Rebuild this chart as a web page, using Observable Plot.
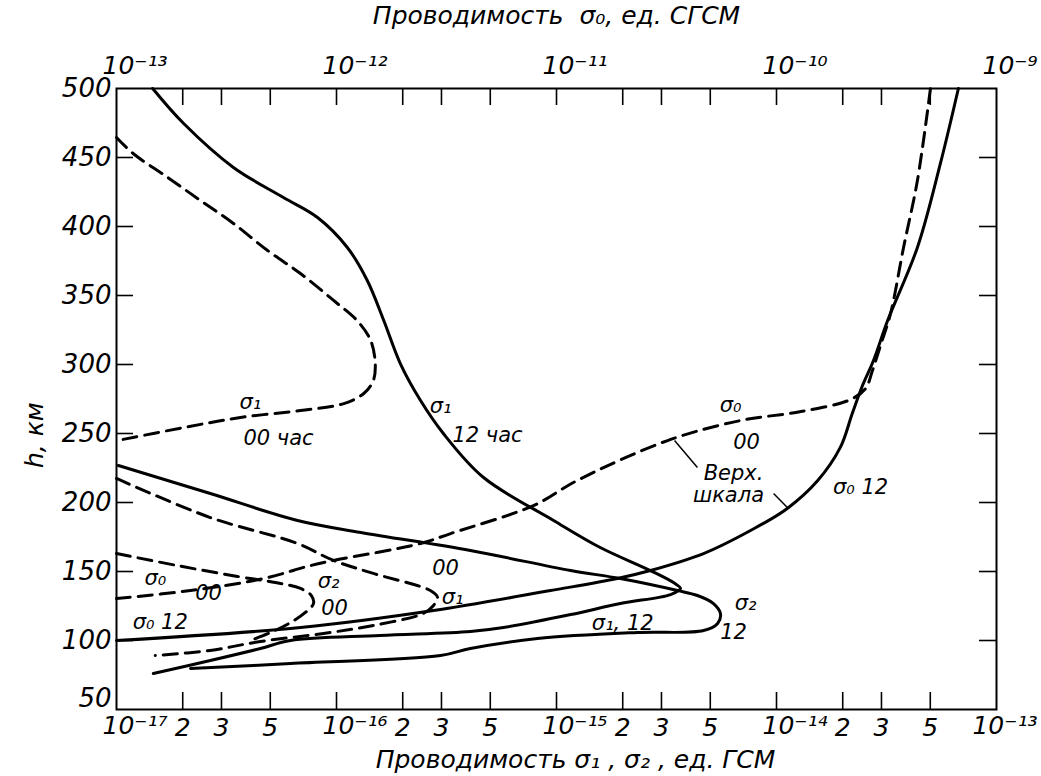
<!DOCTYPE html>
<html><head><meta charset="utf-8">
<script src="https://cdn.jsdelivr.net/npm/d3@7"></script>
<script src="https://cdn.jsdelivr.net/npm/@observablehq/plot@0.6"></script>
<style>body{margin:0;background:#fff}svg{display:block}</style>
</head><body><div id="chart"></div>
<script>
// Bottom scale: σ1, σ2 (ед. ГСМ). Top scale: σ0 (ед. СГСМ), 4 decades higher.
// Each point: [conductivity, height km]
const sigma1Day = [[1.46e-17,500],[2.02e-17,474.6],[3.40e-17,442.8],[5.74e-17,421],[8.20e-17,406.5],[1.12e-16,384.8],[1.38e-16,360.9],[1.64e-16,331.9],[1.95e-16,300.7],[2.41e-16,273.9],[3.06e-16,250],[4.66e-16,218.1],[9.7e-16,187],[1.58e-15,167.4],[2.67e-15,150.7],[3.40e-15,142],[3.66e-15,137.7],[3.30e-15,133.3],[1.95e-15,126.8],[1.16e-15,118.8],[5.74e-16,109.4],[4.06e-16,106.5],[1.58e-16,103.6],[6.18e-17,100],[4.51e-17,94.2],[2.67e-17,85.5],[1.47e-17,76.1]];
const sigma2Day = [[1.02e-17,226.8],[2.67e-17,206.5],[6.65e-17,187],[1.29e-16,178.3],[4.06e-16,165.2],[1.16e-15,150.7],[1.95e-15,144.9],[3.55e-15,136.2],[4.37e-15,132.6],[5.17e-15,126.8],[5.56e-15,119.6],[5.40e-15,112.3],[4.66e-15,107.2],[2.33e-15,105.8],[8.2e-16,101.4],[4.06e-16,94.2],[2.97e-16,89.1],[6.18e-17,83.3],[2.17e-17,79.7]];
const sigma1NightUpper = [[1.0e-17,464.5],[1.19e-17,452.9],[1.71e-17,435.5],[2.41e-17,418.8],[3.40e-17,402.2],[4.86e-17,382.6],[6.86e-17,365.9],[9.7e-17,346.4],[1.24e-16,331.9],[1.43e-16,317.4],[1.50e-16,300.7],[1.47e-16,288.4],[1.33e-16,279],[1.08e-16,271.7],[6.86e-17,266.7],[3.66e-17,261.6],[2.02e-17,254.3],[1.01e-17,244.9]];
const sigma1NightLower = [[1.0e-17,217.4],[2.67e-17,189.1],[6.65e-17,170.3],[9.7e-17,158],[1.47e-16,148.6],[2.67e-16,136.2],[2.88e-16,131.2],[2.76e-16,125.4],[2.48e-16,119.6],[1.47e-16,110.9],[8.73e-17,105.1],[4.51e-17,99.3],[2.67e-17,92.8],[1.50e-17,89.1]];
const sigma2Night = [[1.0e-17,163],[1.89e-17,154.3],[3.55e-17,146.4],[5.28e-17,142],[6.86e-17,137.7],[7.69e-17,132.6],[7.86e-17,126.8],[7.22e-17,120.3],[6.18e-17,113],[5.01e-17,105.8],[4.06e-17,100]];
// σ0 in ед. СГСМ (upper scale)
const sigma0Night = [[1.0e-13,130.4],[2.17e-13,136.2],[4.66e-13,144.9],[7.62e-13,154.3],[9.7e-13,158],[2.41e-12,170.3],[3.30e-12,177.5],[7.86e-12,197.8],[1.24e-11,215.9],[3.20e-11,244.9],[6.86e-11,259.4],[1.29e-10,265.9],[2.17e-10,274.6],[2.54e-10,282.6],[2.73e-10,295.7],[2.97e-10,313.8],[3.30e-10,337],[3.78e-10,384.8],[4.37e-10,433.3],[5.01e-10,500]];
const sigma0Day = [[1.0e-13,100],[6.86e-13,109.4],[2.76e-12,121.7],[9.4e-12,136.2],[1.89e-11,144.9],[2.67e-11,150.7],[4.66e-11,163],[7.62e-11,179.7],[1.12e-10,195.7],[1.54e-10,215.9],[1.95e-10,239.9],[2.21e-10,264.5],[2.46e-10,284.8],[2.76e-10,302.9],[3.20e-10,331.9],[4.37e-10,384.8],[5.56e-10,445.7],[6.71e-10,500]];

const bottomTicks = [1e-17,2e-17,3e-17,5e-17,1e-16,2e-16,3e-16,5e-16,1e-15,2e-15,3e-15,5e-15,1e-14,2e-14,3e-14,5e-14,1e-13];
const bottomTickLabels = ["10⁻¹⁷","2","3","5","10⁻¹⁶","2","3","5","10⁻¹⁵","2","3","5","10⁻¹⁴","2","3","5","10⁻¹³"];
const topTicks = [1e-13,1e-12,1e-11,1e-10,1e-9];
const topTickLabels = ["10⁻¹³","10⁻¹²","10⁻¹¹","10⁻¹⁰","10⁻⁹"];
const topToBottom = 1e-4; // σ0 scale offset (4 decades)
const yTicks = [50,100,150,200,250,300,350,400,450,500];

const labelText = ["σ₁","00 час","σ₁","12 час","σ₀","00","Верх.","шкала","σ₀ 12","σ₂","12","σ₁, 12","00","σ₁","σ₂","00","σ₀","00","σ₀ 12"];
const labelX = [4.06e-17,5.45e-17,2.97e-16,4.86e-16,6.18e-15,7.31e-15,6.38e-15,6.05e-15,2.41e-14,7.23e-15,6.38e-15,2.0e-15,3.13e-16,3.37e-16,9.2e-17,9.8e-17,1.50e-17,2.62e-17,1.58e-17];
const labelH = [272.5,246.4,270,248.6,270.3,243.5,221,205,210.9,126.8,105.8,112.3,152.2,131.2,142.8,123.2,144.9,134.1,113];
const leaders = [[3.44e-15,244.9,4.37e-15,225.4],[9.7e-15,206.5,1.12e-14,196.4]];

const series = [
  {id:"s1d", pts:sigma1Day, dashed:false, k:1},
  {id:"s2d", pts:sigma2Day, dashed:false, k:1},
  {id:"s0d", pts:sigma0Day, dashed:false, k:topToBottom},
  {id:"s1nu", pts:sigma1NightUpper, dashed:true, k:1},
  {id:"s1nl", pts:sigma1NightLower, dashed:true, k:1},
  {id:"s2n", pts:sigma2Night, dashed:true, k:1},
  {id:"s0n", pts:sigma0Night, dashed:true, k:topToBottom}
];
const rows = series.flatMap(s => s.pts.map(([v,h]) => ({id:s.id, x:v*s.k, h, dashed:s.dashed})));
const labels = labelText.map((t,i) => ({t, x:labelX[i], h:labelH[i]}));

const W = 1041, H = 776, mL = 116, mR = 45, mT = 88, mB = 67;
const pw = W - mL - mR, ph = H - mT - mB, TK = 17;
const bottomLbl = bottomTicks.map((v,i) => ({v, t: bottomTickLabels[i], dec: bottomTickLabels[i].startsWith("10")}));
const topLbl = topTicks.map((v,i) => ({v: v*topToBottom, t: topTickLabels[i]}));
const lastDec = bottomLbl.length - 1;
const font = "DejaVu Sans";
const tf = {fontSize: 25, fontStyle: "italic", fill: "#000"};

const chart = Plot.plot({
  width: W, height: H,
  marginLeft: mL, marginRight: mR, marginTop: mT, marginBottom: mB,
  style: {fontFamily: font, fontStyle: "italic", background: "#fff", color: "#000"},
  x: {type: "log", domain: [1e-17, 1e-13], axis: null},
  y: {domain: [50, 500], axis: null},
  marks: [
    Plot.frame({stroke: "#000", strokeWidth: 2}),
    // inward ticks on all four sides
    Plot.tickX(bottomTicks.slice(1,-1), {x: d=>d, insetTop: ph - TK, strokeWidth: 1.6}),
    Plot.tickX(bottomTicks.slice(1,-1), {x: d=>d, insetBottom: ph - TK, strokeWidth: 1.6}),
    Plot.tickY(yTicks.slice(1,-1), {y: d=>d, insetRight: pw - TK, strokeWidth: 1.6}),
    Plot.tickY(yTicks.slice(1,-1), {y: d=>d, insetLeft: pw - TK, strokeWidth: 1.6}),
    // bottom tick labels
    Plot.text(bottomLbl.filter((d,i)=>d.dec && i!==lastDec), {x: "v", text: "t", frameAnchor: "bottom", lineAnchor: "top", dy: 7, dx: -14, textAnchor: "start", ...tf}),
    Plot.text(bottomLbl.filter((d,i)=>i===lastDec), {x: "v", text: "t", frameAnchor: "bottom", lineAnchor: "top", dy: 7, dx: 41, textAnchor: "end", ...tf}),
    Plot.text(bottomLbl.filter(d=>!d.dec), {x: "v", text: "t", frameAnchor: "bottom", lineAnchor: "top", dy: 9, ...tf}),
    // top tick labels (σ0 scale)
    Plot.text(topLbl, {x: "v", text: "t", frameAnchor: "top", lineAnchor: "bottom", dy: -15, dx: -14, textAnchor: "start", ...tf}),
    // left tick labels
    Plot.axisY(yTicks.slice(1), {anchor: "left", tickSize: 0, tickPadding: 5, fontSize: 26, fontStyle: "italic", label: null}),
    Plot.axisY(yTicks.slice(0,1), {anchor: "left", tickSize: 0, tickPadding: 5, dy: -11, fontSize: 26, fontStyle: "italic", label: null}),
    // curves
    Plot.line(rows.filter(d=>!d.dashed), {x: "x", y: "h", z: "id", curve: "catmull-rom", stroke: "#000", strokeWidth: 3}),
    Plot.line(rows.filter(d=>d.dashed), {x: "x", y: "h", z: "id", curve: "catmull-rom", stroke: "#000", strokeWidth: 3, strokeDasharray: "14,8"}),
    Plot.link(leaders, {x1: d=>d[0], y1: d=>d[1], x2: d=>d[2], y2: d=>d[3], stroke: "#000", strokeWidth: 1.5}),
    // annotations
    Plot.text(labels, {x: "x", y: "h", text: "t", fontSize: 21, fontStyle: "italic", fill: "#000"}),
    Plot.text(["Проводимость  σ₀, ед. СГСМ"], {frameAnchor: "top", dy: -82, ...tf}),
    Plot.text(["Проводимость σ₁ , σ₂ , ед. ГСМ"], {frameAnchor: "bottom", dx: 19, dy: 58, ...tf}),
    Plot.text(["h, км"], {frameAnchor: "left", y: [225], dx: -82, rotate: -90, ...tf})
  ]
});
document.getElementById("chart").appendChild(chart);
</script>
</body></html>
